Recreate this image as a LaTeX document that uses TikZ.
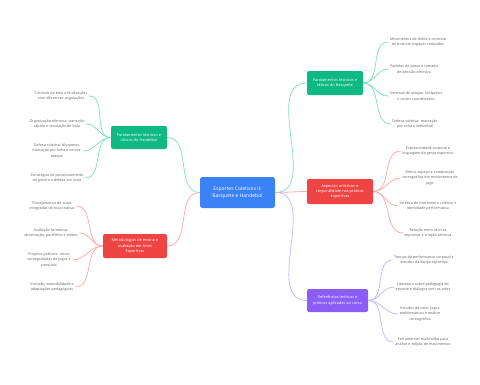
\documentclass[tikz,border=0pt]{standalone}
\usepackage{fontspec}
\setmainfont{Open Sans}
\definecolor{cblue}{HTML}{3B82F6}
\definecolor{cgreen}{HTML}{10B981}
\definecolor{cred}{HTML}{EF4444}
\definecolor{cpurple}{HTML}{8B5CF6}
\definecolor{lgreen}{HTML}{7DE0BE}
\definecolor{lred}{HTML}{F9A8A8}
\definecolor{lpurple}{HTML}{C4B5FD}
\definecolor{leaftxt}{HTML}{666666}
\begin{document}
\begin{tikzpicture}[x=1pt,y=-1pt,
  mainbox/.style={rounded corners=2pt, text=white, align=center, inner sep=0pt,
    font=\fontsize{3.9}{5.4}\selectfont},
  centerbox/.style={rounded corners=2.5pt, fill=cblue, text=white, align=center, inner sep=0pt,
    minimum width=75pt, minimum height=31pt, font=\fontsize{5}{7.2}\selectfont},
  leaf/.style={align=center, text=leaftxt, inner sep=1.5pt, font=\fontsize{3.7}{5.4}\selectfont},
  link/.style={line width=0.7pt},
  rlink/.style={link, out=0, in=180},
  llink/.style={link, out=180, in=0}]
\useasboundingbox[fill=white] (0,0) rectangle (480,384);

% center
\node[centerbox] (c) at (237.5,192.5) {Esportes Coletivos II:\\Basquete e Handebol};

% main branches
\node[mainbox, fill=cgreen, minimum width=56pt, minimum height=24pt] (tb) at (335,83) {Fundamentos técnicos e\\táticos do Basquete};
\node[mainbox, fill=cred, minimum width=66pt, minimum height=25pt] (ar) at (340,191.5) {Aspectos artísticos e\\corporalidade nas práticas\\esportivas};
\node[mainbox, fill=cpurple, minimum width=61pt, minimum height=23pt] (rf) at (337.5,300.5) {Referências teóricas e\\práticas aplicadas ao curso};
\node[mainbox, fill=cgreen, minimum width=56pt, minimum height=23pt] (th) at (139,137.5) {Fundamentos técnicos e\\táticos do Handebol};
\node[mainbox, fill=cred, minimum width=64pt, minimum height=24pt] (me) at (135,246) {Metodologias de ensino e\\avaliação em Artes\\Esportivas};

\draw[rlink, lgreen] (c.east) to (tb.west);
\draw[rlink, lred] (c.east) to (ar.west);
\draw[rlink, lpurple] (c.east) to (rf.west);
\draw[llink, lgreen] (c.west) to (th.east);
\draw[llink, lred] (c.west) to (me.east);

% basquete leaves
\node[leaf] (b1) at (418,42) {Movimentos de drible e controle\\de bola em espaços reduzidos};
\node[leaf] (b2) at (414,69) {Padrões de passe e tomada\\de decisão ofensiva};
\node[leaf] (b3) at (416,96) {Sistemas de ataque: bloqueios\\e cortes coordenados};
\node[leaf] (b4) at (415,124) {Defesa coletiva: marcação\\por zona e individual};
\foreach \n in {b1,b2,b3,b4} \draw[rlink, lgreen] (tb.east) to (\n.west);

% artistic leaves
\node[leaf] (a1) at (428,151) {Expressividade corporal e\\linguagem do gesto esportivo};
\node[leaf] (a2) at (430,178) {Ritmo, espaço e composição\\coreográfica em movimentos de\\jogo};
\node[leaf] (a3) at (428,206) {Estética do movimento coletivo e\\identidade performativa};
\node[leaf] (a4) at (428,233) {Relação entre técnica\\esportiva e criação artística};
\foreach \n in {a1,a2,a3,a4} \draw[rlink, lred] (ar.east) to (\n.west);

% references leaves
\node[leaf] (r1) at (424,260) {Teorias da performance corporal e\\estudos da dança esportiva};
\node[leaf] (r2) at (423,287) {Literatura sobre pedagogia do\\esporte e diálogos com as artes};
\node[leaf] (r3) at (420,314) {Estudos de caso: jogos\\emblemáticos e análise\\coreográfica};
\node[leaf] (r4) at (423,342) {Ferramentas multimídia para\\análise e edição de movimentos};
\foreach \n in {r1,r2,r3,r4} \draw[rlink, lpurple] (rf.east) to (\n.west);

% handebol leaves
\node[leaf] (h1) at (61,96) {Controle de bola e finalizações\\com diferentes angulações};
\node[leaf] (h2) at (57,124) {Organização ofensiva: transição\\rápida e circulação de bola};
\node[leaf] (h3) at (57,151) {Defesa coletiva: bloqueios,\\marcação por linha e contra-\\ataque};
\node[leaf] (h4) at (57,178) {Estratégias de posicionamento\\do goleiro e defesa em zona};
\foreach \n in {h1,h2,h3,h4} \draw[llink, lgreen] (th.west) to (\n.east);

% methodology leaves
\node[leaf] (m1) at (52,206) {Planejamento de aulas\\integradas técnica-criativa};
\node[leaf] (m2) at (51,233) {Avaliação formativa:\\observação, portfólios e vídeos};
\node[leaf] (m3) at (49,260) {Projetos práticos: cenas\\coreografadas de jogos e\\pesquisa};
\node[leaf] (m4) at (52,287) {Inclusão, acessibilidade e\\adaptações pedagógicas};
\foreach \n in {m1,m2,m3,m4} \draw[llink, lred] (me.west) to (\n.east);
\end{tikzpicture}
\end{document}
